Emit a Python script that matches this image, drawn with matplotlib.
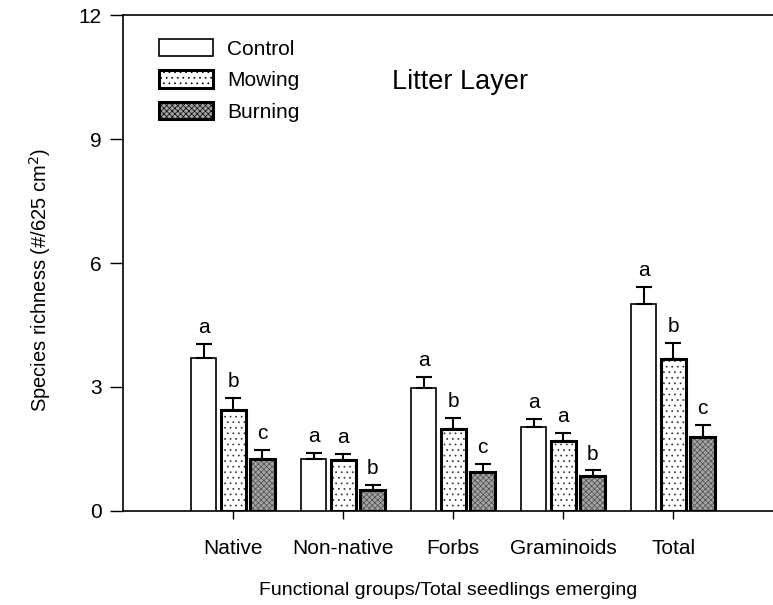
import matplotlib
matplotlib.use("Agg")
import matplotlib.pyplot as plt
from matplotlib.patches import Rectangle
import numpy as np

plt.rcParams['font.family'] = ['Liberation Sans', 'DejaVu Sans']
plt.rcParams['hatch.linewidth'] = 0.5

groups = ["Native", "Non-native", "Forbs", "Graminoids", "Total"]
treatments = ["Control", "Mowing", "Burning"]

control_mean = [3.71, 1.26, 2.97, 2.04, 5.01]
control_se = [0.33, 0.14, 0.27, 0.19, 0.42]
mowing_mean = [2.45, 1.24, 1.98, 1.70, 3.68]
mowing_se = [0.29, 0.14, 0.26, 0.19, 0.39]
burning_mean = [1.26, 0.52, 0.94, 0.84, 1.79]
burning_se = [0.22, 0.10, 0.19, 0.14, 0.28]

control_letters = ["a", "a", "a", "a", "a"]
mowing_letters = ["b", "a", "b", "a", "b"]
burning_letters = ["c", "b", "c", "b", "c"]

fig = plt.figure(figsize=(7.73, 6.05), dpi=100)
ax = fig.add_axes([123 / 773, 1 - 511 / 605, 650 / 773, 496 / 605])

x = np.arange(1, len(groups) + 1)
width = 0.227
offset = 0.267

# (face colour, hatch, hatch colour, outline width) per treatment
styles = [
    ("white", None, "white", 1.2),
    ("white", "...", "#303030", 2.2),
    ("#a4a4a4", "xxxxxx", "#4a4a4a", 2.2),
]
means = [control_mean, mowing_mean, burning_mean]
ses = [control_se, mowing_se, burning_se]
letters_all = [control_letters, mowing_letters, burning_letters]
offsets = [-offset, 0.0, offset]

for mean, se, letters, off, (fc, hatch, hc, lw) in zip(means, ses, letters_all, offsets, styles):
    pos = x + off
    if hatch is not None:
        ax.bar(pos, mean, width, color=fc, hatch=hatch, edgecolor=hc, linewidth=0, zorder=2)
        outline_fc = "none"
    else:
        outline_fc = fc
    ax.bar(pos, mean, width, facecolor=outline_fc, edgecolor="black", linewidth=lw, zorder=3)
    ax.errorbar(pos, mean, yerr=[np.zeros(len(se)), se], fmt="none", ecolor="black",
                elinewidth=1.5, capsize=6, capthick=1.5, zorder=4)
    for px, m, s, lab in zip(pos, mean, se, letters):
        ax.annotate(lab, (px, m + s), xytext=(0, 5), textcoords="offset points",
                    ha="center", va="bottom", fontsize=15)

ax.set_xlim(0, 5.905)
ax.set_ylim(0, 12)
ax.set_yticks([0, 3, 6, 9, 12])
ax.set_xticks(x)
ax.set_xticklabels(groups)
ax.tick_params(axis="y", direction="out", length=9.5, width=1, labelsize=15, pad=6)
ax.tick_params(axis="x", direction="out", length=5.5, width=1, labelsize=15, pad=15)
ax.spines["right"].set_visible(False)
for s in ("left", "bottom", "top"):
    ax.spines[s].set_linewidth(1.2)

ax.set_xlabel("Functional groups/Total seedlings emerging", fontsize=14, labelpad=17)
ax.set_ylabel(r"Species richness (#/625 cm$^{2}$)", fontsize=14.5)
ax.yaxis.set_label_coords(-0.107, 0.466)

ax.text(3.064, 10.38, "Litter Layer", fontsize=19.5, ha="center", va="center")

proxies = [Rectangle((0, 0), 1, 1, facecolor=fc, hatch=hatch, edgecolor="black", linewidth=lw)
           for fc, hatch, hc, lw in styles]
ax.legend(proxies, treatments, loc="upper left", bbox_to_anchor=(0.056, 0.952),
          frameon=False, fontsize=15, handlelength=2.55, handleheight=0.92,
          handletextpad=0.7, labelspacing=0.55, borderaxespad=0, borderpad=0)

fig.savefig("out.png", dpi=100)
